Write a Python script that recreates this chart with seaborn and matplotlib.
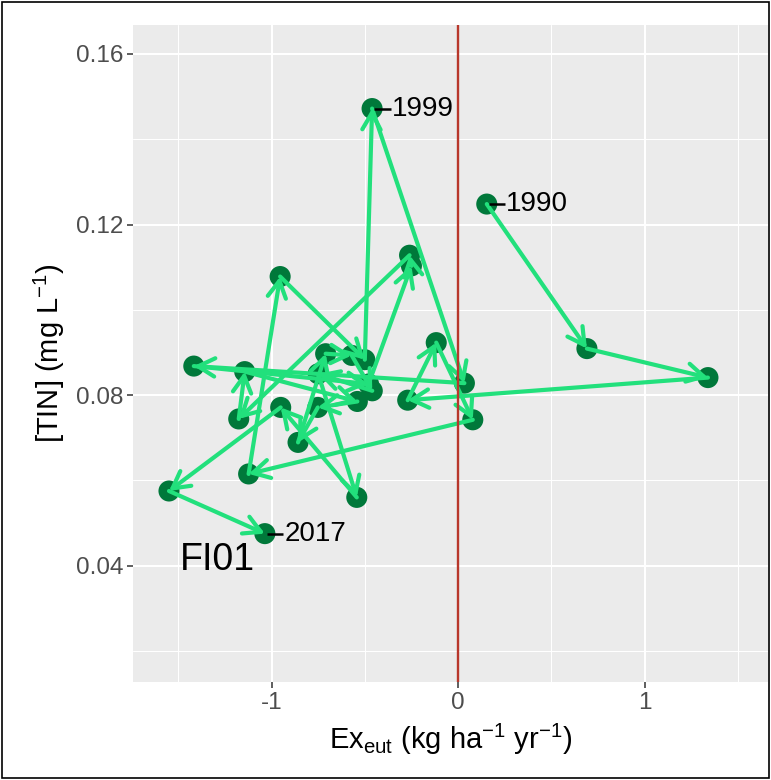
import matplotlib
matplotlib.use("Agg")
import matplotlib.pyplot as plt
import seaborn as sns
import pandas as pd
from matplotlib.patches import Rectangle

# ---- data ----
years = list(range(1990, 2018))
ex_eut = [0.154, 0.691, 1.340, -0.270, -0.117, 0.079, -1.123, -0.954, -0.500, -0.461,
          0.034, -1.417, -0.480, -0.250, -0.260, -1.176, -1.144, -0.540, -0.752, -0.858,
          -0.710, -0.570, -0.460, -0.750, -0.543, -0.951, -1.550, -1.036]
tin = [0.1248, 0.0909, 0.0841, 0.0788, 0.0923, 0.0742, 0.0615, 0.1078, 0.0883, 0.1472,
       0.0828, 0.0868, 0.0826, 0.1103, 0.1128, 0.0744, 0.0855, 0.0785, 0.0771, 0.0689,
       0.0897, 0.0893, 0.0810, 0.0850, 0.0560, 0.0771, 0.0575, 0.0475]
labelled_years = [1990, 1999, 2017]
site = "FI01"
x_ticks = [-1, 0, 1]
x_tick_labels = ["-1", "0", "1"]
y_ticks = [0.04, 0.08, 0.12, 0.16]
y_tick_labels = ["0.04", "0.08", "0.12", "0.16"]

df = pd.DataFrame({"year": years, "ex": ex_eut, "tin": tin})

sns.set_theme(style="darkgrid", rc={
    "axes.facecolor": "#EBEBEB",
    "grid.color": "white",
})
plt.rcParams["font.family"] = ["Liberation Sans", "DejaVu Sans"]
plt.rcParams["mathtext.fontset"] = "custom"
plt.rcParams["mathtext.rm"] = "Liberation Sans"
plt.rcParams["mathtext.it"] = "Liberation Sans:italic"
plt.rcParams["mathtext.bf"] = "Liberation Sans:bold"

fig = plt.figure(figsize=(7.71, 7.80), dpi=100)
ax = fig.add_axes([133 / 771, 1 - 682 / 780, (768 - 133) / 771, (682 - 25) / 780])

point_col = "#00783A"
arrow_col = "#22E07C"

sns.scatterplot(data=df, x="ex", y="tin", ax=ax, s=230, color=point_col,
                edgecolor="none", linewidth=0, zorder=3, legend=False)

# arrows between consecutive years
for i in range(len(df) - 1):
    ax.annotate("", xy=(df.ex[i + 1], df.tin[i + 1]), xytext=(df.ex[i], df.tin[i]),
                arrowprops=dict(arrowstyle="->,head_length=0.6,head_width=0.33",
                                color=arrow_col, lw=3.0, shrinkA=0, shrinkB=0,
                                mutation_scale=20),
                zorder=4)

# year labels with small leader dash
for yr in labelled_years:
    r = df[df.year == yr].iloc[0]
    ax.plot([r.ex + 0.01, r.ex + 0.10], [r.tin, r.tin], color="black", lw=1.8, zorder=5,
            solid_capstyle="butt")
    ax.text(r.ex + 0.105, r.tin, str(yr), ha="left", va="center", fontsize=20,
            color="black", zorder=5)

ax.axvline(0, color="#B8372B", lw=1.7, zorder=6)

ax.text(-1.49, 0.0413, site, ha="left", va="center", fontsize=27, color="black", zorder=5)

ax.set_xlim(-1.743, 1.662)
ax.set_ylim(0.0127, 0.1668)
ax.set_xticks(x_ticks)
ax.set_xticklabels(x_tick_labels)
ax.set_yticks(y_ticks)
ax.set_yticklabels(y_tick_labels)
ax.set_xticks([-1.5, -0.5, 0.5, 1.5], minor=True)
ax.set_yticks([0.02, 0.06, 0.10, 0.14], minor=True)
ax.grid(which="major", color="white", lw=1.5)
ax.grid(which="minor", color="white", lw=0.75)
for s in ax.spines.values():
    s.set_visible(False)
ax.tick_params(axis="both", which="major", length=4, width=1.1, color="#333333",
               labelcolor="#4D4D4D", labelsize=17.5, pad=3, direction="out",
               bottom=True, left=True)
ax.tick_params(axis="both", which="minor", length=0)

ax.set_xlabel(r"Ex$_{\mathrm{eut}}$ (kg ha$^{\mathrm{-1}}$ yr$^{\mathrm{-1}}$)", fontsize=21,
              color="black", labelpad=6)
ax.set_ylabel(r"[TIN] (mg L$^{\mathrm{-1}}$)", fontsize=21, color="black", labelpad=6)

fig.patches.append(Rectangle((0.002, 0.002), 0.996, 0.996, transform=fig.transFigure,
                             fill=False, edgecolor="black", lw=1.2))

fig.savefig("out.png", dpi=100, facecolor="white")
